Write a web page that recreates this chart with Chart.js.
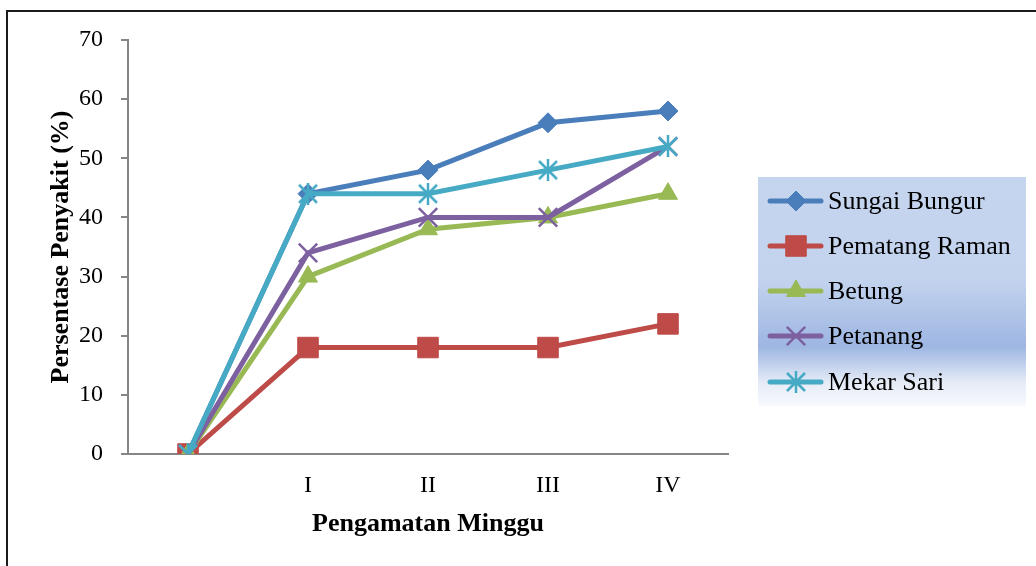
<!DOCTYPE html>
<html>
<head>
<meta charset="utf-8">
<title>Persentase Penyakit</title>
<script src="https://cdn.jsdelivr.net/npm/chart.js@4/dist/chart.umd.min.js"></script>
<style>
    html, body { margin: 0; padding: 0; background: #fff; }
    #chart { display: block; }
</style>
</head>
<body>
<canvas id="chart" width="1036" height="566"></canvas>
<script>
// Data
const weeks = ['', 'I', 'II', 'III', 'IV'];
const seriesNames = ['Sungai Bungur', 'Pematang Raman', 'Betung', 'Petanang', 'Mekar Sari'];
const sungaiBungur = [0, 44, 48, 56, 58];
const pematangRaman = [0, 18, 18, 18, 22];
const betung = [0, 30, 38, 40, 44];
const petanang = [0, 34, 40, 40, 52];
const mekarSari = [0, 44, 44, 48, 52];
const yMin = 0, yMax = 70, yStep = 10;

const serif = '"Liberation Serif", "Times New Roman", serif';
const axisGray = '#868686';

// Excel style asterisk marker (X plus vertical bar)
function makeAsterisk(color) {
    const c = document.createElement('canvas');
    c.width = 22; c.height = 22;
    const g = c.getContext('2d');
    g.strokeStyle = color;
    g.lineWidth = 2.5;
    g.beginPath();
    g.moveTo(2, 2); g.lineTo(20, 20);
    g.moveTo(20, 2); g.lineTo(2, 20);
    g.moveTo(11, 0); g.lineTo(11, 22);
    g.stroke();
    return c;
}

const styles = [
    { color: '#4a7ebb', pointStyle: 'rectRot', radius: 10, bw: 1 },
    { color: '#be4b48', pointStyle: 'rect', radius: 14.5, bw: 1 },
    { color: '#98b954', pointStyle: 'triangle', radius: 11, bw: 1 },
    { color: '#7d60a0', pointStyle: 'crossRot', radius: 13, bw: 2.5 },
    { color: '#46aac5', pointStyle: makeAsterisk('#46aac5'), radius: 11, bw: 1 }
];
const values = [sungaiBungur, pematangRaman, betung, petanang, mekarSari];

const datasets = seriesNames.map((name, i) => ({
    label: name,
    data: values[i],
    borderColor: styles[i].color,
    backgroundColor: styles[i].color,
    borderWidth: 5,
    pointStyle: styles[i].pointStyle,
    pointRadius: styles[i].radius,
    pointBorderWidth: styles[i].bw,
    pointBorderColor: styles[i].color,
    pointBackgroundColor: styles[i].color,
    tension: 0,
    // later series sit on top, like the original
    order: seriesNames.length - i
}));

// Outer frame (left and top edges only) and the gradient legend box
const framePlugin = {
    id: 'frameAndLegend',
    afterDraw(chart) {
        const ctx = chart.ctx;
        ctx.save();
        ctx.fillStyle = '#1b1b1b';
        ctx.fillRect(6, 10, 2, 556);
        ctx.fillRect(6, 10, 1030, 2);

        const box = { x: 758, y: 177, w: 268, h: 229 };
        const grad = ctx.createLinearGradient(0, box.y, 0, box.y + box.h);
        grad.addColorStop(0, '#c6d5ee');
        grad.addColorStop(0.45, '#c3d3ee');
        grad.addColorStop(0.74, '#9db6e2');
        grad.addColorStop(0.9, '#e6ecf7');
        grad.addColorStop(1, '#f7f9fc');
        ctx.fillStyle = grad;
        ctx.fillRect(box.x, box.y, box.w, box.h);

        const rowY = [201, 246, 291, 336, 382];
        ctx.font = '26px ' + serif;
        ctx.textBaseline = 'middle';
        ctx.textAlign = 'left';
        seriesNames.forEach((name, i) => {
            const s = styles[i];
            const y = rowY[i];
            ctx.strokeStyle = s.color;
            ctx.lineWidth = 5;
            ctx.lineCap = 'round';
            ctx.beginPath();
            ctx.moveTo(770, y);
            ctx.lineTo(821, y);
            ctx.stroke();
            ctx.lineCap = 'butt';
            ctx.fillStyle = s.color;
            ctx.strokeStyle = s.color;
            ctx.lineWidth = s.bw;
            Chart.helpers.drawPoint(ctx, { pointStyle: s.pointStyle, radius: s.radius, rotation: 0, borderWidth: s.bw }, 796, y);
            ctx.fillStyle = '#000';
            ctx.fillText(name, 828, y + 1);
        });
        ctx.restore();
    }
};

new Chart(document.getElementById('chart'), {
    type: 'line',
    data: { labels: weeks, datasets: datasets },
    options: {
        responsive: false,
        animation: false,
        layout: { padding: { left: 0, right: 308, top: 40, bottom: 0 } },
        plugins: {
            legend: { display: false },
            tooltip: { enabled: false }
        },
        scales: {
            x: {
                offset: true,
                grid: { display: true, drawOnChartArea: false, drawTicks: false },
                border: { display: true, color: axisGray, width: 2 },
                ticks: { color: '#000', font: { family: serif, size: 24 }, padding: 17 },
                title: {
                    display: true,
                    text: 'Pengamatan Minggu',
                    color: '#000',
                    font: { family: serif, size: 26, weight: 'bold' },
                    padding: { top: 4, bottom: 26 }
                },
                afterFit(scale) { scale.height = 112; }
            },
            y: {
                min: yMin,
                max: yMax,
                grid: { display: true, drawOnChartArea: false, drawTicks: true, tickLength: 7, color: axisGray, lineWidth: 2 },
                border: { display: true, color: axisGray, width: 2 },
                ticks: { stepSize: yStep, color: '#000', font: { family: serif, size: 24 }, padding: 18 },
                title: {
                    display: true,
                    text: 'Persentase Penyakit (%)',
                    color: '#000',
                    font: { family: serif, size: 26, weight: 'bold' },
                    padding: { top: 46, bottom: 4 }
                },
                afterFit(scale) { scale.width = 128; }
            }
        }
    },
    plugins: [framePlugin]
});
</script>
</body>
</html>
